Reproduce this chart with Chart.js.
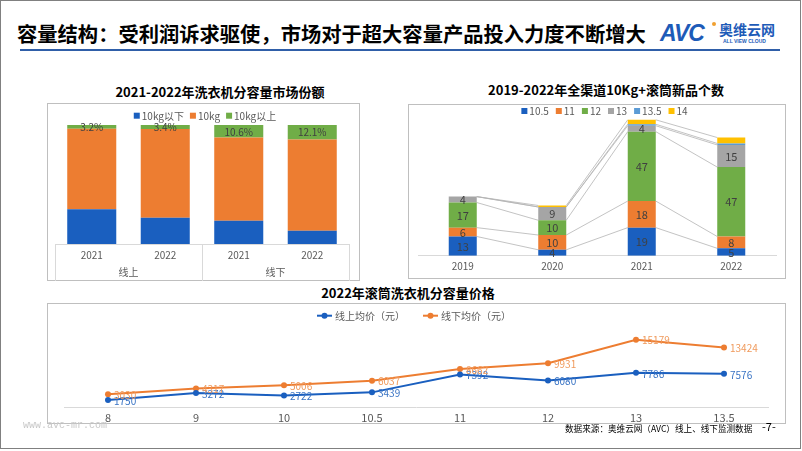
<!DOCTYPE html>
<html><head><meta charset="utf-8">
<script src="https://cdn.jsdelivr.net/npm/chart.js@4.4.1/dist/chart.umd.min.js"></script>
<style>
html,body{margin:0;padding:0;background:#fff;}
body{width:802px;height:451px;position:relative;overflow:hidden;font-family:"Noto Sans CJK SC","Noto Sans",sans-serif;}
.abs{position:absolute;white-space:nowrap;}
.frame{position:absolute;border:1px solid #bfbfbf;box-sizing:border-box;}
.ctitle{position:absolute;font-weight:bold;font-size:13px;color:#000;white-space:nowrap;transform:translateX(-50%);line-height:16px;}
canvas{position:absolute;}
</style></head><body>
<div class="abs" style="left:0;top:0;width:801px;height:449px;border:1px solid #808080;box-sizing:border-box;"></div>
<div class="abs" style="left:17px;top:19px;font-size:20.3px;font-weight:bold;line-height:28px;color:#000;">容量结构：受利润诉求驱使，市场对于超大容量产品投入力度不断增大</div>
<div class="abs" style="left:20px;top:49px;width:760px;height:2px;background:#2f5ea8;"></div>
<div class="abs" style="left:660px;top:20px;font-family:'Liberation Sans',Arial,sans-serif;font-weight:bold;font-style:italic;font-size:23px;color:#1d5bb8;letter-spacing:-1px;line-height:26px;">AVC</div>
<div class="abs" style="left:712px;top:22px;width:4px;height:4px;border-radius:2px;background:#f0a030;"></div>
<div class="abs" style="left:719px;top:21px;font-size:14px;font-weight:bold;color:#1d5bb8;line-height:16px;">奥维云网</div>
<div class="abs" style="left:723px;top:38px;font-family:'Liberation Sans',sans-serif;font-size:5px;font-weight:bold;color:#1d5bb8;line-height:6px;">ALL VIEW CLOUD</div>

<div class="ctitle" style="left:220px;top:84px;">2021-2022年洗衣机分容量市场份额</div>
<div class="ctitle" style="left:606px;top:82px;">2019-2022年全渠道10Kg+滚筒新品个数</div>
<div class="ctitle" style="left:408px;top:285px;">2022年滚筒洗衣机分容量价格</div>

<div class="frame" style="left:47px;top:103px;width:313px;height:178px;"></div>
<div class="frame" style="left:408px;top:104px;width:378px;height:175px;"></div>
<div class="frame" style="left:47px;top:303px;width:739px;height:121px;"></div>

<canvas id="c1" width="313" height="178" style="left:47px;top:103px;"></canvas>
<canvas id="c2" width="378" height="175" style="left:408px;top:104px;"></canvas>
<canvas id="c3" width="739" height="124" style="left:47px;top:303px;"></canvas>

<div class="abs" style="left:23px;top:420px;font-family:'Liberation Mono',monospace;font-size:10px;color:#c8c8c8;line-height:12px;">www.avc-mr.com</div>
<div class="abs" style="left:565px;top:422px;font-size:8.6px;color:#000;line-height:12px;">数据来源：奥维云网（AVC）线上、线下监测数据</div>
<div class="abs" style="left:762px;top:420px;font-size:11px;color:#000;line-height:13px;">-7-</div>

<script>
// ---- data ----
const shareCats = ['2021', '2022', '2021', '2022'];
const shareGroups = ['线上', '线下'];
const shareBelow10 = [29.2, 22.1, 19.6, 11.2];
const share10 = [67.6, 74.5, 69.8, 76.7];
const shareAbove10 = [3.2, 3.4, 10.6, 12.1];

const newYears = ['2019', '2020', '2021', '2022'];
const new105 = [13, 4, 19, 5];
const new11 = [6, 10, 18, 8];
const new12 = [17, 10, 47, 47];
const new13 = [4, 9, 4, 15];
const new135 = [0, 0, 1, 1];
const new14 = [0, 1, 3, 4];

const capCats = ['8', '9', '10', '10.5', '11', '12', '13', '13.5'];
const onlinePrice = [1750, 3272, 2722, 3439, 7392, 6080, 7786, 7576];
const offlinePrice = [3030, 4317, 5006, 6037, 8662, 9931, 15179, 13424];

// ---- setup ----
const FONT = '"Noto Sans CJK SC", "Noto Sans", sans-serif';
Chart.defaults.font.family = FONT;
Chart.defaults.color = '#595959';

const miniLegend = {
  id: 'miniLegend',
  afterDraw(chart, args, o) {
    if (!o || !o.show) return;
    const ctx = chart.ctx; ctx.save();
    ctx.font = o.fontSize + 'px ' + FONT;
    ctx.textBaseline = 'middle'; ctx.textAlign = 'left';
    const ds = chart.data.datasets;
    const mw = o.line ? o.lineLen : o.box;
    const ws = ds.map(d => mw + o.gap + ctx.measureText(d.label).width);
    const total = ws.reduce((a, b) => a + b, 0) + o.spacing * (ds.length - 1);
    let x = o.cx - total / 2; const y = o.y;
    ds.forEach((d, i) => {
      const c = o.line ? d.borderColor : d.backgroundColor;
      if (o.line) {
        ctx.strokeStyle = c; ctx.lineWidth = 2; ctx.beginPath();
        ctx.moveTo(x, y); ctx.lineTo(x + mw, y); ctx.stroke();
        ctx.fillStyle = c; ctx.beginPath(); ctx.arc(x + mw / 2, y, 3, 0, Math.PI * 2); ctx.fill();
      } else {
        ctx.fillStyle = c; ctx.fillRect(x, y - o.box / 2, o.box, o.box);
      }
      ctx.fillStyle = o.color; ctx.fillText(d.label, x + mw + o.gap, y + 0.5);
      x += ws[i] + o.spacing;
    });
    ctx.restore();
  }
};

const segLabels = {
  id: 'segLabels',
  afterDatasetsDraw(chart, args, o) {
    if (!o || !o.show) return;
    const ctx = chart.ctx; ctx.save();
    ctx.font = o.fontSize + 'px ' + FONT; ctx.fillStyle = o.color;
    ctx.textAlign = 'center'; ctx.textBaseline = 'middle';
    chart.data.datasets.forEach((ds, i) => {
      if (!o.datasets.includes(i)) return;
      chart.getDatasetMeta(i).data.forEach((el, j) => {
        const v = ds.data[j]; if (!v) return;
        ctx.fillText(v + (o.suffix || ''), el.x, (el.y + el.base) / 2 + 0.5);
      });
    });
    ctx.restore();
  }
};

const seriesLines = {
  id: 'seriesLines',
  beforeDatasetsDraw(chart, args, o) {
    if (!o || !o.show) return;
    const ctx = chart.ctx; ctx.save(); ctx.strokeStyle = o.color; ctx.lineWidth = o.width;
    chart.data.datasets.forEach((d, i) => {
      const els = chart.getDatasetMeta(i).data;
      for (let j = 0; j < els.length - 1; j++) {
        const a = els[j], b = els[j + 1];
        ctx.beginPath(); ctx.moveTo(a.x + a.width / 2, a.y); ctx.lineTo(b.x - b.width / 2, b.y); ctx.stroke();
      }
    });
    ctx.restore();
  }
};

const tableGrid = {
  id: 'tableGrid',
  afterDraw(chart, args, o) {
    if (!o || !o.show) return;
    const ctx = chart.ctx, ca = chart.chartArea, xs = chart.scales.x;
    ctx.save(); ctx.strokeStyle = o.color; ctx.lineWidth = 1;
    const mid = (xs.getPixelForValue(1) + xs.getPixelForValue(2)) / 2;
    const bottom = chart.height;
    ctx.beginPath();
    ctx.moveTo(ca.left, Math.round(ca.bottom) + 0.5); ctx.lineTo(ca.right, Math.round(ca.bottom) + 0.5);
    [ca.left, mid, ca.right].forEach(x => { ctx.moveTo(Math.round(x) + 0.5, ca.bottom); ctx.lineTo(Math.round(x) + 0.5, bottom); });
    ctx.stroke(); ctx.restore();
  }
};

const pointLabels = {
  id: 'pointLabels',
  afterDatasetsDraw(chart, args, o) {
    if (!o || !o.show) return;
    const ctx = chart.ctx; ctx.save();
    ctx.font = o.fontSize + 'px ' + FONT; ctx.textAlign = 'left'; ctx.textBaseline = 'middle';
    chart.data.datasets.forEach((ds, i) => {
      ctx.fillStyle = o.colors[i];
      chart.getDatasetMeta(i).data.forEach((el, j) => {
        ctx.fillText(String(ds.data[j]), el.x + 6, el.y + 1);
      });
    });
    ctx.restore();
  }
};

const BLUE = '#1a5fbf', ORANGE = '#ed7d31', GREEN = '#70ad47', GRAY = '#a5a5a5', LBLUE = '#5b9bd5', YELLOW = '#ffc000';

// ---- chart 1 ----
new Chart(document.getElementById('c1'), {
  type: 'bar',
  data: {
    labels: shareCats,
    datasets: [
      { label: '10kg以下', data: shareBelow10, backgroundColor: BLUE },
      { label: '10kg', data: share10, backgroundColor: ORANGE },
      { label: '10kg以上', data: shareAbove10, backgroundColor: GREEN }
    ]
  },
  options: {
    responsive: false, animation: false, devicePixelRatio: 1,
    layout: { padding: { left: 8, right: 11, top: 22, bottom: 3 } },
    datasets: { bar: { categoryPercentage: 1, barPercentage: 0.667 } },
    scales: {
      x: { stacked: true, grid: { display: false, drawTicks: false }, border: { display: false },
           ticks: { color: '#595959', font: { size: 10 }, padding: 5 } },
      x2: { type: 'category', labels: shareGroups, position: 'bottom', grid: { display: false, drawTicks: false },
            border: { display: false }, ticks: { color: '#595959', font: { size: 10 }, padding: 0 } },
      y: { stacked: true, display: false, min: 0, max: 100 }
    },
    plugins: {
      legend: { display: false }, tooltip: { enabled: false },
      miniLegend: { show: true, cx: 158, y: 12.7, box: 6, gap: 2, spacing: 6, fontSize: 10, color: '#595959' },
      segLabels: { show: true, datasets: [2], suffix: '%', fontSize: 10, color: '#404040' },
      tableGrid: { show: true, color: '#d9d9d9' }
    }
  },
  plugins: [miniLegend, segLabels, tableGrid]
});

// ---- chart 2 ----
new Chart(document.getElementById('c2'), {
  type: 'bar',
  data: {
    labels: newYears,
    datasets: [
      { label: '10.5', data: new105, backgroundColor: BLUE },
      { label: '11', data: new11, backgroundColor: ORANGE },
      { label: '12', data: new12, backgroundColor: GREEN },
      { label: '13', data: new13, backgroundColor: GRAY },
      { label: '13.5', data: new135, backgroundColor: LBLUE },
      { label: '14', data: new14, backgroundColor: YELLOW }
    ]
  },
  options: {
    responsive: false, animation: false, devicePixelRatio: 1,
    layout: { padding: { left: 10, right: 10, top: 4, bottom: 1.3 } },
    datasets: { bar: { categoryPercentage: 1, barPercentage: 0.313 } },
    scales: {
      x: { stacked: true, grid: { display: false, drawTicks: false }, border: { display: true, color: '#d9d9d9' },
           ticks: { color: '#595959', font: { size: 10 }, padding: 5 } },
      y: { stacked: true, display: false, min: 0, max: 100 }
    },
    plugins: {
      legend: { display: false }, tooltip: { enabled: false },
      miniLegend: { show: true, cx: 196.5, y: 7, box: 6, gap: 2, spacing: 7, fontSize: 10, color: '#595959' },
      segLabels: { show: true, datasets: [0, 1, 2, 3], suffix: '', fontSize: 11, color: '#404040' },
      seriesLines: { show: true, color: '#b4b4b4', width: 0.8 }
    }
  },
  plugins: [miniLegend, segLabels, seriesLines]
});

// ---- chart 3 ----
new Chart(document.getElementById('c3'), {
  type: 'line',
  data: {
    labels: capCats,
    datasets: [
      { label: '线上均价（元）', data: onlinePrice, borderColor: BLUE, backgroundColor: BLUE,
        pointBackgroundColor: BLUE, pointBorderWidth: 0, pointRadius: 3, borderWidth: 2, tension: 0 },
      { label: '线下均价（元）', data: offlinePrice, borderColor: ORANGE, backgroundColor: ORANGE,
        pointBackgroundColor: ORANGE, pointBorderWidth: 0, pointRadius: 3, borderWidth: 2, tension: 0 }
    ]
  },
  options: {
    responsive: false, animation: false, devicePixelRatio: 1,
    layout: { padding: { left: 17, right: 18, top: 24, bottom: 0 } },
    scales: {
      x: { offset: true, grid: { display: false, drawTicks: false }, border: { display: true, color: '#d9d9d9' },
           ticks: { color: '#595959', font: { size: 11 }, padding: 3 } },
      y: { display: false, min: 0, max: 18000 }
    },
    plugins: {
      legend: { display: false }, tooltip: { enabled: false },
      miniLegend: { show: true, line: true, lineLen: 15, cx: 367, y: 12.7, gap: 3, spacing: 18, fontSize: 10, color: '#595959' },
      pointLabels: { show: true, fontSize: 10, colors: ['#3a74c4', '#f09a5c'] }
    }
  },
  plugins: [miniLegend, pointLabels]
});
</script>
</body></html>
